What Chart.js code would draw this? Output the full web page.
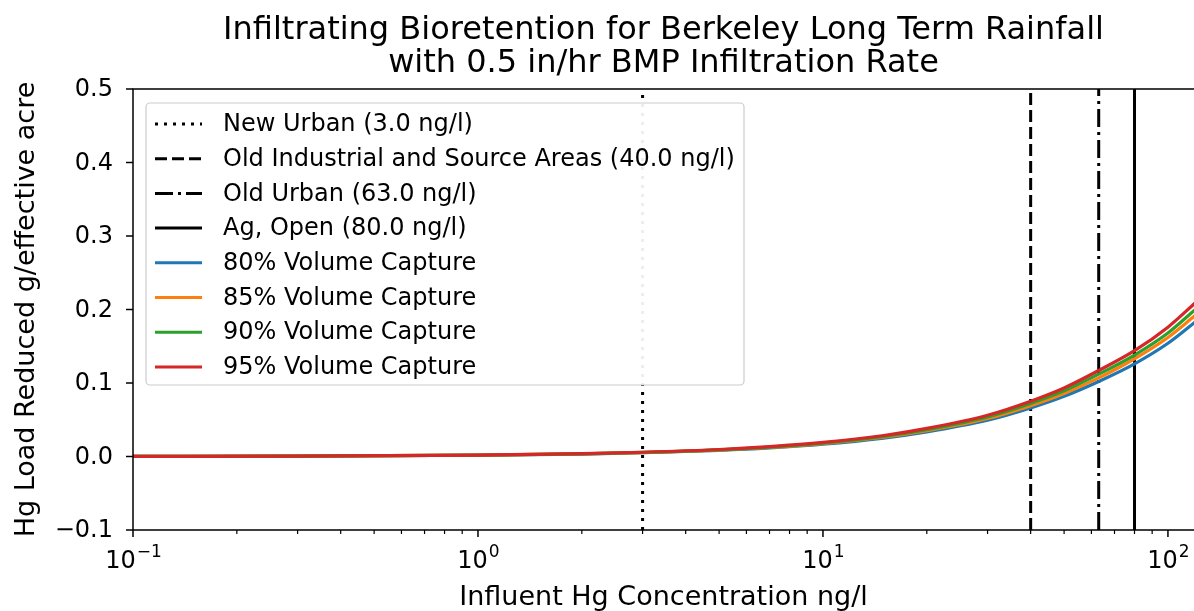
<!DOCTYPE html>
<html lang="en">
<head>
<meta charset="UTF-8">
<title>Infiltrating Bioretention – Berkeley Long Term Rainfall</title>
<script src="https://cdn.jsdelivr.net/npm/chart.js@4"></script>
<style>
  html, body { margin: 0; padding: 0; background: #fff; }
  #wrap { width: 1194px; height: 611px; }
</style>
</head>
<body>
<div id="wrap"><canvas id="hgChart"></canvas></div>
<script>
  const concentrations = [0.1, 0.3, 1, 2, 3, 5, 7, 10, 15, 20, 30, 40, 50, 63, 80, 100, 120];
  const capture80 = [0.0002, 0.0005, 0.0017, 0.0033, 0.0051, 0.0084, 0.0117, 0.0167, 0.0251, 0.0335, 0.0493, 0.066, 0.0818, 0.102, 0.126, 0.154, 0.183];
  const capture85 = [0.0002, 0.0005, 0.0018, 0.0035, 0.0054, 0.0088, 0.0123, 0.0176, 0.0263, 0.0351, 0.0517, 0.0692, 0.0858, 0.107, 0.133, 0.162, 0.192];
  const capture90 = [0.0002, 0.0005, 0.0018, 0.0037, 0.0056, 0.0091, 0.0128, 0.0183, 0.0274, 0.0365, 0.0538, 0.0721, 0.0893, 0.112, 0.138, 0.168, 0.200];
  const capture95 = [0.0002, 0.0005, 0.0019, 0.0038, 0.0058, 0.0095, 0.0134, 0.0191, 0.0286, 0.0382, 0.0562, 0.0753, 0.0933, 0.117, 0.144, 0.176, 0.209];
  const captureLabels = ["80% Volume Capture", "85% Volume Capture", "90% Volume Capture", "95% Volume Capture"];

  // land use reference concentrations (vertical lines)
  const landUseConc = [3.0, 40.0, 63.0, 80.0];
  const landUseLabels = ["New Urban (3.0 ng/l)", "Old Industrial and Source Areas (40.0 ng/l)", "Old Urban (63.0 ng/l)", "Ag, Open (80.0 ng/l)"];

  const xMajorTicks = [0.1, 1, 10, 100];
  const xTickExponents = ["\u22121", "0", "1", "2"];
  const yTicks = [-0.1, 0.0, 0.1, 0.2, 0.3, 0.4, 0.5];

  const X_MIN = 0.1, X_MAX = 119, Y_MIN = -0.1, Y_MAX = 0.5;
  const FONT = "'DejaVu Sans', sans-serif";

  const lineColors = ["#1f77b4", "#ff7f0e", "#2ca02c", "#d62728"];
  const dashes = [[3, 6], [12, 5], [18, 5, 3, 5], []];

  const datasets = [];
  landUseConc.forEach((c, i) => {
    datasets.push({
      label: landUseLabels[i],
      data: [{ x: c, y: Y_MIN }, { x: c, y: Y_MAX }],
      borderColor: "#000",
      borderWidth: 3,
      borderDash: dashes[i],
      pointRadius: 0,
      order: 10
    });
  });
  [capture80, capture85, capture90, capture95].forEach((vals, i) => {
    datasets.push({
      label: captureLabels[i],
      data: concentrations.map((c, j) => ({ x: c, y: vals[j] })),
      borderColor: lineColors[i],
      borderWidth: 3.2,
      pointRadius: 0,
      cubicInterpolationMode: "monotone",
      order: 4 - i
    });
  });

  // matplotlib-like frame, ticks, labels, title and legend
  const mplExtras = {
    id: "mplExtras",
    afterDatasetsDraw(chart) {
      const ctx = chart.ctx;
      const a = chart.chartArea;
      const xs = chart.scales.x, ys = chart.scales.y;
      ctx.save();
      ctx.fillStyle = "#000";
      ctx.strokeStyle = "#000";

      // title
      ctx.font = "32px " + FONT;
      ctx.textAlign = "center";
      ctx.textBaseline = "alphabetic";
      const cx = (a.left + a.right) / 2;
      ctx.fillText("Infiltrating Bioretention for Berkeley Long Term Rainfall", cx, 39);
      ctx.fillText("with 0.5 in/hr BMP Infiltration Rate", cx, 72);

      // spines
      ctx.lineWidth = 1.5;
      ctx.beginPath();
      ctx.moveTo(a.left, a.bottom);
      ctx.lineTo(a.left, a.top);
      ctx.lineTo(a.right, a.top);
      ctx.moveTo(a.left, a.bottom);
      ctx.lineTo(a.right, a.bottom);
      ctx.stroke();

      // y ticks and labels
      ctx.font = "24px " + FONT;
      ctx.textAlign = "right";
      ctx.textBaseline = "middle";
      yTicks.forEach(v => {
        const py = ys.getPixelForValue(v);
        ctx.beginPath();
        ctx.moveTo(a.left - 7, py);
        ctx.lineTo(a.left, py);
        ctx.stroke();
        ctx.fillText(v.toFixed(1).replace("-", "\u2212"), a.left - 20, py + 1);
      });

      // x major ticks with 10^n labels
      xMajorTicks.forEach((v, i) => {
        const px = xs.getPixelForValue(v);
        ctx.beginPath();
        ctx.moveTo(px, a.bottom);
        ctx.lineTo(px, a.bottom + 7);
        ctx.stroke();
        ctx.font = "24px " + FONT;
        const wBase = ctx.measureText("10").width;
        ctx.font = "17px " + FONT;
        const wExp = ctx.measureText(xTickExponents[i]).width;
        const x0 = px - (wBase + wExp) / 2;
        ctx.textAlign = "left";
        ctx.textBaseline = "alphabetic";
        ctx.font = "24px " + FONT;
        ctx.fillText("10", x0, a.bottom + 38);
        ctx.font = "17px " + FONT;
        ctx.fillText(xTickExponents[i], x0 + wBase + 1, a.bottom + 27);
      });

      // x minor ticks
      ctx.lineWidth = 1.2;
      xMajorTicks.forEach(d => {
        for (let m = 2; m <= 9; m++) {
          const v = d * m;
          if (v > X_MAX) continue;
          const px = xs.getPixelForValue(v);
          ctx.beginPath();
          ctx.moveTo(px, a.bottom);
          ctx.lineTo(px, a.bottom + 4);
          ctx.stroke();
        }
      });

      // axis titles
      ctx.font = "27px " + FONT;
      ctx.textAlign = "center";
      ctx.textBaseline = "alphabetic";
      ctx.fillText("Influent Hg Concentration ng/l", cx, 605);
      ctx.save();
      ctx.translate(34, (a.top + a.bottom) / 2);
      ctx.rotate(-Math.PI / 2);
      ctx.fillText("Hg Load Reduced g/effective acre", 0, 0);
      ctx.restore();

      // legend
      const bx = a.left + 13, by = a.top + 14, bw = 598, bh = 282;
      ctx.fillStyle = "rgba(255,255,255,0.93)";
      ctx.strokeStyle = "#cccccc";
      ctx.lineWidth = 1.2;
      ctx.beginPath();
      ctx.roundRect(bx, by, bw, bh, 4);
      ctx.fill();
      ctx.stroke();

      ctx.font = "24px " + FONT;
      ctx.textAlign = "left";
      ctx.textBaseline = "middle";
      chart.data.datasets.forEach((ds, i) => {
        const ry = by + 21 + i * 34.7;
        ctx.strokeStyle = ds.borderColor;
        ctx.lineWidth = 3;
        ctx.setLineDash(ds.borderDash || []);
        ctx.beginPath();
        ctx.moveTo(bx + 9, ry);
        ctx.lineTo(bx + 56, ry);
        ctx.stroke();
        ctx.setLineDash([]);
        ctx.fillStyle = "#000";
        ctx.fillText(ds.label, bx + 77, ry + 1);
      });
      ctx.restore();
    }
  };

  new Chart(document.getElementById("hgChart"), {
    type: "line",
    data: { datasets },
    options: {
      responsive: true,
      maintainAspectRatio: false,
      animation: false,
      layout: { padding: { top: 89, right: 0, left: 133, bottom: 81 } },
      plugins: {
        legend: { display: false },
        tooltip: { enabled: false }
      },
      scales: {
        x: { type: "logarithmic", min: X_MIN, max: X_MAX, display: false },
        y: { min: Y_MIN, max: Y_MAX, display: false }
      }
    },
    plugins: [mplExtras]
  });
</script>
</body>
</html>
